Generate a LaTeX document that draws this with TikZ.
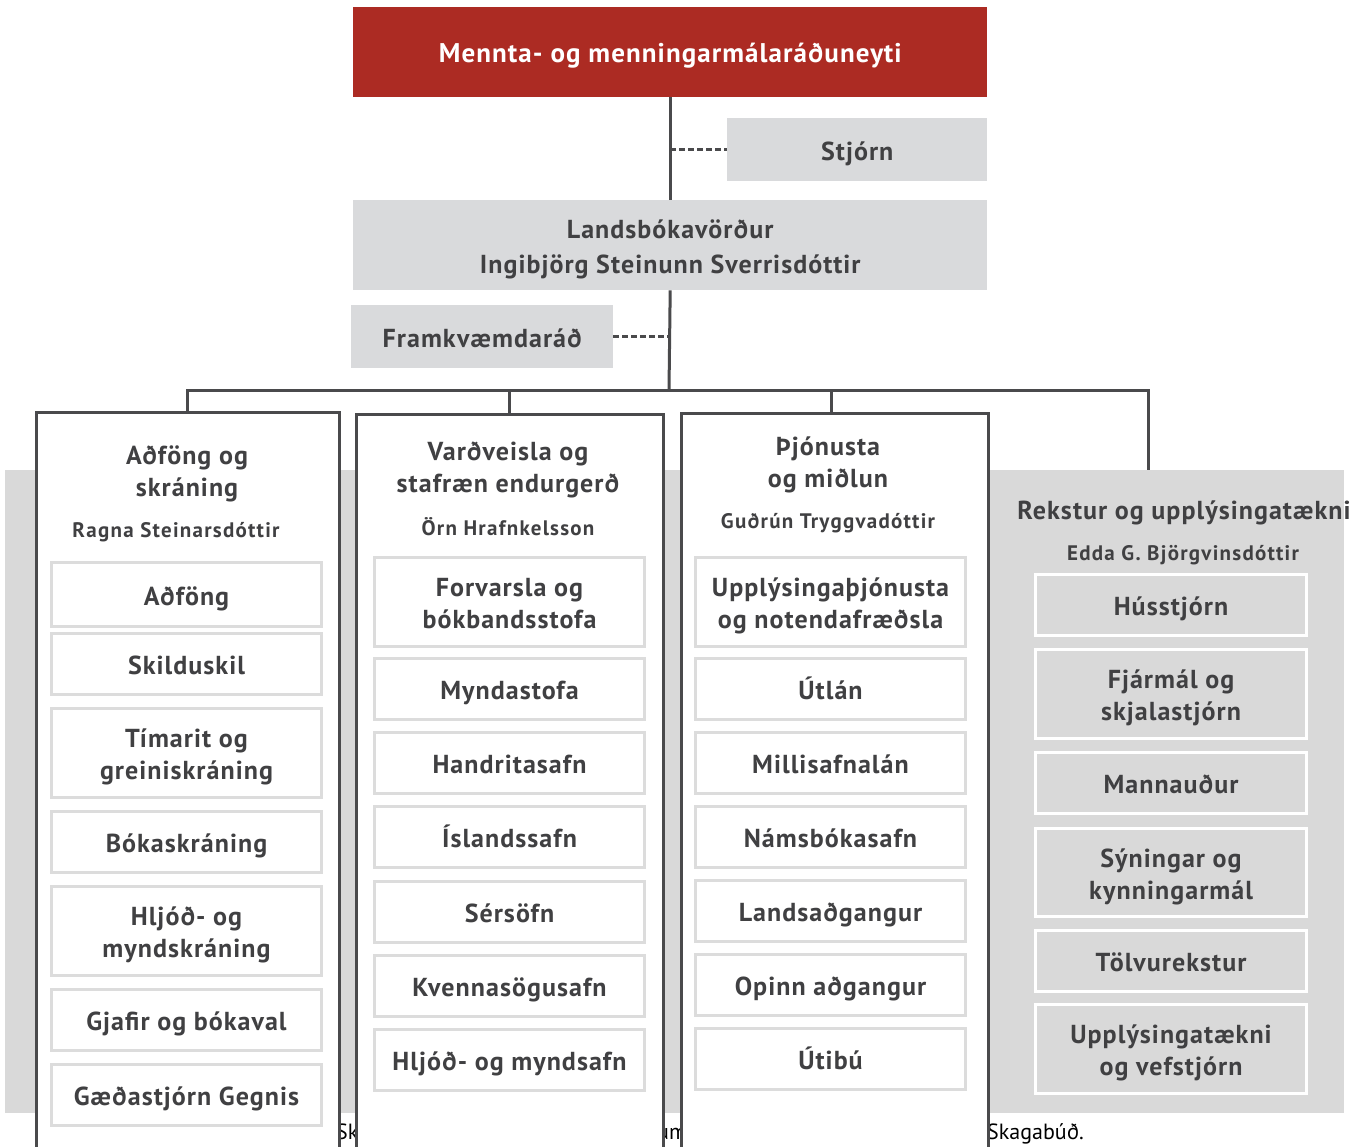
\documentclass[tikz,border=0pt]{standalone}
\usepackage{fontspec}
\setmainfont{PT Sans}
\newfontfamily\dinb{PT Sans}[LetterSpace=4]
\newfontfamily\dinn{PT Sans}[LetterSpace=6]
\usetikzlibrary{positioning}
\definecolor{ttx}{HTML}{404042}
\definecolor{redb}{HTML}{AC2B23}
\definecolor{boxg}{HTML}{D9DADC}
\definecolor{panelg}{HTML}{D9D9D9}
\definecolor{subg}{HTML}{DCDCDC}
\definecolor{colb}{HTML}{4A4A4C}
\tikzset{
  txtf/.style={font=\dinb\bfseries\fontsize{26}{32}\selectfont},
  namef/.style={font=\dinn\bfseries\fontsize{21}{24}\selectfont},
  boxtext/.style={text height=26pt, text depth=5pt},
  two/.style={text height=58pt, text depth=5pt},
  topbox/.style={anchor=north west, inner sep=0pt, align=center, text=ttx, txtf, boxtext},
  wsub/.style={draw=subg, line width=3pt, fill=white, minimum width=270pt, anchor=north west, inner sep=0pt, align=center, text=ttx, txtf, boxtext},
  gsub/.style={draw=white, line width=3pt, fill=panelg, minimum width=271pt, anchor=north west, inner sep=0pt, align=center, text=ttx, txtf, boxtext},
  colbox/.style={draw=colb, line width=3pt, fill=white, anchor=north west, inner sep=0pt, minimum height=800pt},
  conn/.style={draw=colb, line width=3pt},
  dconn/.style={draw=colb, line width=2.5pt, dash pattern=on 6pt off 3pt},
  head/.style={align=center, text=ttx, txtf, inner sep=0pt},
  nm/.style={align=center, text=ttx, namef, inner sep=0pt},
  frag/.style={text=black, font=\fontsize{22}{24}\selectfont, inner sep=0pt}
}
\begin{document}
\begin{tikzpicture}[x=1pt,y=-1pt]
\useasboundingbox (0,0) rectangle (1368,1146);
\clip (0,0) rectangle (1368,1146);
\fill[white] (0,0) rectangle (1368,1146);

% top boxes
\node[topbox, fill=redb, text=white, minimum width=634pt, minimum height=90pt, font=\dinb\bfseries\fontsize{27}{32}\selectfont] (min) at (353,7) {Mennta- og menningarmálaráðuneyti};
\node[topbox, fill=boxg, minimum width=260pt, minimum height=63pt] (stj) at (727,118) {Stjórn};
\node[topbox, fill=boxg, minimum width=634pt, minimum height=90pt, text height=61pt, text depth=5pt, font=\dinb\bfseries\fontsize{26}{35}\selectfont] (lands) at (353,200) {Landsbókavörður\\Ingibjörg Steinunn Sverrisdóttir};
\node[topbox, fill=boxg, minimum width=262pt, minimum height=63pt] (fram) at (351,305) {Framkvæmdaráð};

\coordinate (bus) at (669,390);
\coordinate (c4) at (1148,470);

\draw[conn] (min.south) -- (lands.north);
\draw[dconn] (min.south |- stj.west) -- (stj.west);
\draw[dconn] (fram.east) -- (fram.east -| lands.south);

% panel
\fill[panelg] (5,470) rectangle (1344,1113);

% fragments of text behind
\node[frag, anchor=base west] (f1) at (336,1139) {Sk};
\node[frag, anchor=base west] (f2) at (657,1139) {um};
\node[frag, anchor=base west] (f3) at (987,1139) {Skagabúð.};

% columns
\node[colbox, minimum width=303pt] (col1) at (35,411) {};
\node[colbox, minimum width=307pt] (col2) at (355,413) {};
\node[colbox, minimum width=307pt] (col3) at (680,412) {};

% connectors
\draw[conn] (lands.south) -- (bus);
\draw[conn] (col1.north -| 187,0) -- (187,390) -- (1148,390) -- (c4);
\draw[conn] (509,390) -- (col2.north -| 509,0);
\draw[conn] (831,390) -- (col3.north -| 831,0);

% column 1
\node[head] (h1) at (187,474) {Aðföng og\\skráning};
\node[nm] (n1) at (176,532) {Ragna Steinarsdóttir};
\node[wsub, minimum height=64pt] (a1) at (50,561) {Aðföng};
\node[wsub, minimum height=61pt] (a2) at (50,632) {Skilduskil};
\node[wsub, two, minimum height=89pt] (a3) at (50,707) {Tímarit og\\greiniskráning};
\node[wsub, minimum height=61pt] (a4) at (50,810) {Bókaskráning};
\node[wsub, two, minimum height=89pt] (a5) at (50,885) {Hljóð- og\\myndskráning};
\node[wsub, minimum height=61pt] (a6) at (50,988) {Gjafir og bókaval};
\node[wsub, minimum height=61pt] (a7) at (50,1063) {Gæðastjórn Gegnis};

% column 2
\node[head] (h2) at (508,470) {Varðveisla og\\stafræn endurgerð};
\node[nm] (n2) at (508,527) {Örn Hrafnkelsson};
\node[wsub, two, minimum height=89pt] (b1) at (373,556) {Forvarsla og\\bókbandsstofa};
\node[wsub, minimum height=61pt] (b2) at (373,657) {Myndastofa};
\node[wsub, minimum height=61pt] (b3) at (373,731) {Handritasafn};
\node[wsub, minimum height=61pt] (b4) at (373,805) {Íslandssafn};
\node[wsub, minimum height=61pt] (b5) at (373,880) {Sérsöfn};
\node[wsub, minimum height=61pt] (b6) at (373,954) {Kvennasögusafn};
\node[wsub, minimum height=61pt] (b7) at (373,1028) {Hljóð- og myndsafn};

% column 3
\node[head] (h3) at (828,465) {Þjónusta\\og miðlun};
\node[nm] (n3) at (828,523) {Guðrún Tryggvadóttir};
\node[wsub, two, minimum height=89pt] (c1) at (694,556) {Upplýsingaþjónusta\\og notendafræðsla};
\node[wsub, minimum height=61pt] (c2) at (694,657) {Útlán};
\node[wsub, minimum height=61pt] (c3) at (694,731) {Millisafnalán};
\node[wsub, minimum height=61pt] (c4b) at (694,805) {Námsbókasafn};
\node[wsub, minimum height=61pt] (c5) at (694,879) {Landsaðgangur};
\node[wsub, minimum height=61pt] (c6) at (694,953) {Opinn aðgangur};
\node[wsub, minimum height=61pt] (c7) at (694,1027) {Útibú};

% column 4
\node[head] (h4) at (1184,513) {Rekstur og upplýsingatækni};
\node[nm] (n4) at (1183,555) {Edda G. Björgvinsdóttir};
\node[gsub, minimum height=61pt] (d1) at (1034,573) {Hússtjórn};
\node[gsub, two, minimum height=89pt] (d2) at (1034,648) {Fjármál og\\skjalastjórn};
\node[gsub, minimum height=61pt] (d3) at (1034,751) {Mannauður};
\node[gsub, two, minimum height=88pt] (d4) at (1034,827) {Sýningar og\\kynningarmál};
\node[gsub, minimum height=61pt] (d5) at (1034,929) {Tölvurekstur};
\node[gsub, two, minimum height=89pt] (d6) at (1034,1003) {Upplýsingatækni\\og vefstjórn};
\end{tikzpicture}
\end{document}
